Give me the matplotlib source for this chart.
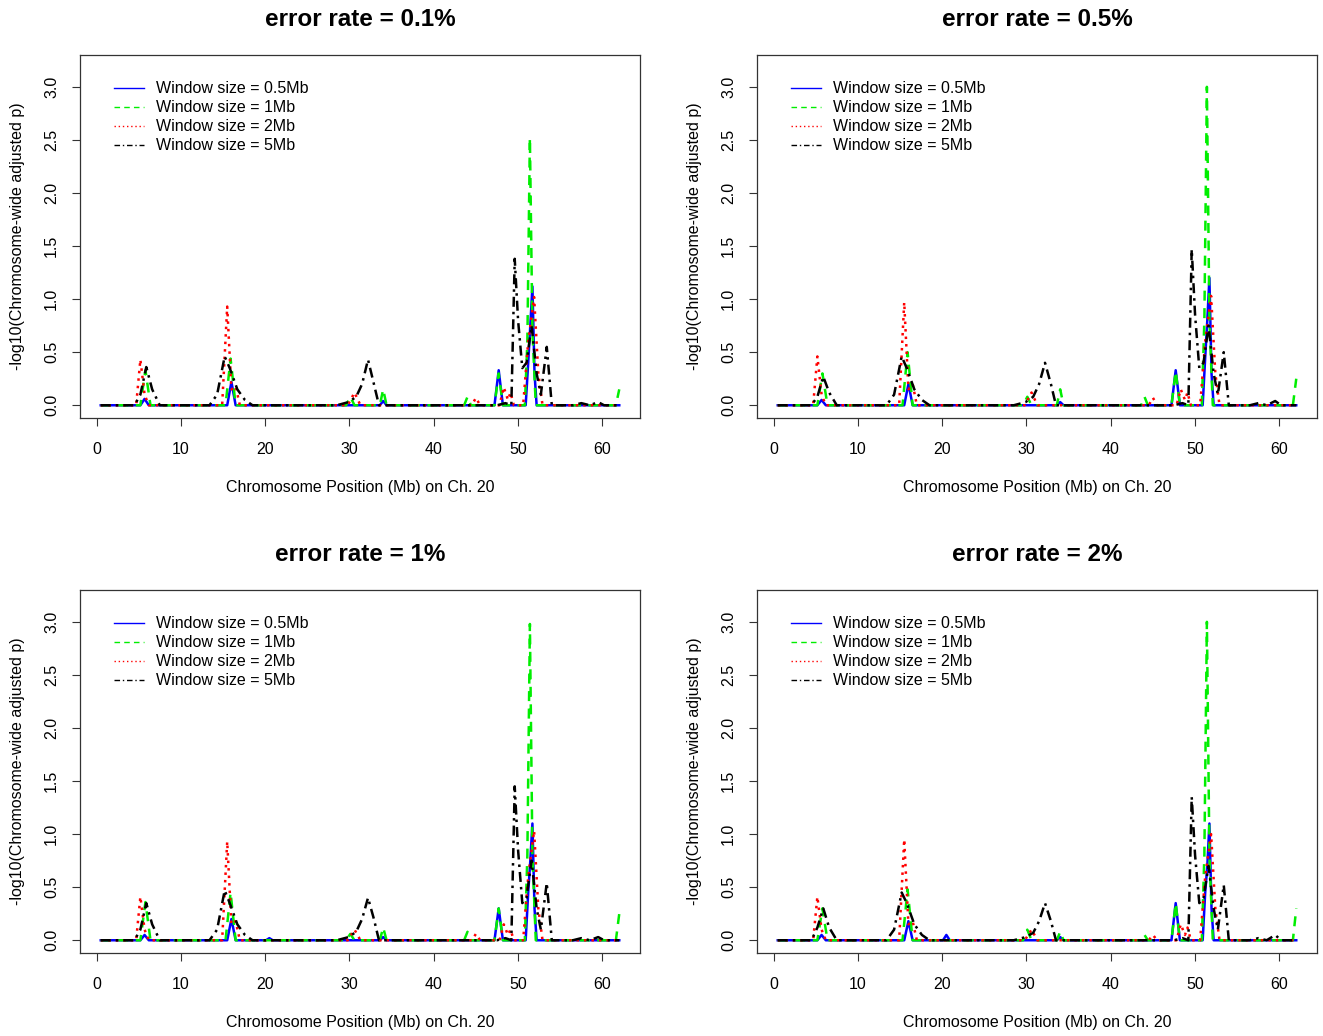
import matplotlib
matplotlib.use("Agg")
import matplotlib.pyplot as plt
from matplotlib.lines import Line2D

plt.rcParams['font.family'] = ['Liberation Sans', 'DejaVu Sans']

# panel titles
titles = ["error rate = 0.1%", "error rate = 0.5%", "error rate = 1%", "error rate = 2%"]
labels = ["Window size = 0.5Mb", "Window size = 1Mb", "Window size = 2Mb", "Window size = 5Mb"]

# window 0.5Mb (blue)
x_blue = [0.5, 5.2, 5.7, 6.2, 15.5, 16.0, 16.5, 20.1, 20.5, 20.9, 33.6, 34.0, 34.4,
          47.2, 47.7, 48.2, 50.9, 51.2, 51.45, 51.7, 51.95, 52.2, 62.0]
y_blue_01 = [0, 0, 0.06, 0, 0, 0.22, 0, 0, 0, 0, 0, 0.04, 0, 0, 0.33, 0, 0, 0.4, 0.75, 1.12, 0.3, 0, 0]
y_blue_05 = [0, 0, 0.05, 0, 0, 0.2, 0, 0, 0, 0, 0, 0.03, 0, 0, 0.33, 0, 0, 0.45, 0.8, 1.2, 0.3, 0, 0]
y_blue_1 = [0, 0, 0.05, 0, 0, 0.2, 0, 0, 0.02, 0, 0, 0.03, 0, 0, 0.3, 0, 0, 0.45, 0.75, 1.1, 0.3, 0, 0]
y_blue_2 = [0, 0, 0.05, 0, 0, 0.18, 0, 0, 0.05, 0, 0, 0.03, 0, 0, 0.35, 0, 0, 0.45, 0.7, 1.1, 0.3, 0, 0]

# window 1Mb (green)
x_green = [0.5, 5.2, 5.8, 6.4, 15.3, 15.9, 16.5, 29.6, 30.1, 30.6, 33.6, 34.0, 34.4,
           43.6, 44.0, 44.4, 47.2, 47.7, 48.2, 50.8, 51.1, 51.4, 51.7, 52.1, 61.6, 62.0]
y_green_01 = [0, 0, 0.33, 0, 0, 0.44, 0, 0, 0.08, 0, 0, 0.15, 0, 0, 0.08, 0, 0, 0.3, 0, 0, 0.6, 2.52, 0.7, 0, 0, 0.15]
y_green_05 = [0, 0, 0.3, 0, 0, 0.5, 0, 0, 0.08, 0, 0, 0.15, 0, 0, 0.08, 0, 0, 0.32, 0, 0, 0.8, 3.0, 0.8, 0, 0, 0.25]
y_green_1 = [0, 0, 0.36, 0, 0, 0.45, 0, 0, 0.06, 0, 0, 0.12, 0, 0, 0.08, 0, 0, 0.3, 0, 0, 0.8, 2.98, 0.8, 0, 0, 0.25]
y_green_2 = [0, 0, 0.3, 0, 0, 0.48, 0, 0, 0.1, 0, 0, 0.08, 0, 0, 0.05, 0, 0, 0.35, 0, 0, 0.8, 3.0, 0.8, 0, 0, 0.3]

# window 2Mb (red)
x_red = [0.5, 4.7, 5.2, 5.7, 6.2, 14.9, 15.5, 16.0, 16.5, 17.0, 29.8, 30.6, 31.3,
         44.5, 45.0, 45.5, 47.8, 48.3, 48.8, 49.1, 49.5, 50.6, 51.2, 51.9, 52.4, 52.9, 62.0]
y_red_01 = [0, 0, 0.43, 0.1, 0, 0, 0.93, 0.15, 0.18, 0, 0, 0.12, 0, 0, 0.07, 0, 0, 0.17, 0.05, 0.12, 0, 0, 0.6, 1.02, 0.3, 0, 0]
y_red_05 = [0, 0, 0.46, 0.1, 0, 0, 0.97, 0.15, 0.2, 0, 0, 0.12, 0, 0, 0.07, 0, 0, 0.15, 0.05, 0.12, 0, 0, 0.6, 1.03, 0.3, 0, 0]
y_red_1 = [0, 0, 0.41, 0.1, 0, 0, 0.93, 0.15, 0.18, 0, 0, 0.1, 0, 0, 0.06, 0, 0, 0.15, 0.05, 0.1, 0, 0, 0.6, 1.03, 0.3, 0, 0]
y_red_2 = [0, 0, 0.41, 0.1, 0, 0, 0.95, 0.15, 0.18, 0, 0, 0.1, 0, 0, 0.05, 0, 0, 0.15, 0.05, 0.12, 0, 0, 0.6, 1.0, 0.3, 0, 0]

# window 5Mb (black)
x_black = [0.5, 4.5, 5.2, 5.9, 6.6, 7.5, 13.4, 14.3, 15.2, 15.8, 16.7, 17.6, 18.5,
           28.5, 29.9, 30.8, 31.5, 32.2, 32.9, 33.5, 47.5, 48.5, 49.2, 49.6, 50.0, 50.5,
           51.0, 51.6, 52.2, 52.7, 53.4, 54.0, 56.5, 57.5, 58.5, 59.5, 60.2, 62.0]
y_black_01 = [0, 0, 0.1, 0.36, 0.15, 0, 0, 0.1, 0.46, 0.35, 0.15, 0.05, 0, 0, 0.03, 0.08, 0.2, 0.43, 0.2, 0,
              0, 0.02, 0, 1.38, 0.8, 0.35, 0.4, 0.75, 0.3, 0.1, 0.55, 0, 0, 0.02, 0, 0.03, 0, 0]
y_black_05 = [0, 0, 0.08, 0.27, 0.12, 0, 0, 0.1, 0.46, 0.35, 0.15, 0.05, 0, 0, 0.03, 0.08, 0.2, 0.4, 0.2, 0,
              0, 0.02, 0, 1.47, 0.85, 0.35, 0.4, 0.75, 0.3, 0.1, 0.5, 0, 0, 0.02, 0, 0.04, 0, 0]
y_black_1 = [0, 0, 0.1, 0.35, 0.15, 0, 0, 0.1, 0.47, 0.35, 0.15, 0.05, 0, 0, 0.03, 0.08, 0.2, 0.4, 0.2, 0,
             0, 0.02, 0, 1.45, 0.85, 0.35, 0.4, 0.75, 0.3, 0.1, 0.54, 0, 0, 0.02, 0, 0.03, 0, 0]
y_black_2 = [0, 0, 0.12, 0.3, 0.12, 0, 0, 0.1, 0.45, 0.35, 0.15, 0.05, 0, 0, 0.03, 0.07, 0.18, 0.35, 0.18, 0,
             0, 0.02, 0, 1.35, 0.8, 0.35, 0.4, 0.7, 0.3, 0.1, 0.52, 0, 0, 0.02, 0, 0.05, 0, 0]

blues = [y_blue_01, y_blue_05, y_blue_1, y_blue_2]
greens = [y_green_01, y_green_05, y_green_1, y_green_2]
reds = [y_red_01, y_red_05, y_red_1, y_red_2]
blacks = [y_black_01, y_black_05, y_black_1, y_black_2]

colors = ["blue", "#00ee00", "red", "black"]
dashes = [None, (4, 3), (1, 2), (4, 2, 1, 2)]
lw = 1.8
fs = 11.5

fig = plt.figure(figsize=(13.23, 10.36), dpi=100)
W, H = 1323, 1036
boxes = [(80, 55), (757, 55), (80, 590), (757, 590)]
bw, bh = 560, 363

for i in range(4):
    l, t = boxes[i]
    ax = fig.add_axes([l / W, 1 - (t + bh) / H, bw / W, bh / H])
    series = [(x_blue, blues[i]), (x_green, greens[i]), (x_red, reds[i]), (x_black, blacks[i])]
    for k, (xs, ys) in enumerate(series):
        line, = ax.plot(xs, ys, color=colors[k], lw=lw)
        if dashes[k] is not None:
            line.set_dashes(dashes[k])
    ax.set_xlim(-1.96, 64.46)
    ax.set_ylim(-0.12, 3.3)
    ax.set_xticks([0, 10, 20, 30, 40, 50, 60])
    ax.set_yticks([0, 0.5, 1.0, 1.5, 2.0, 2.5, 3.0])
    ax.set_yticklabels(["0.0", "0.5", "1.0", "1.5", "2.0", "2.5", "3.0"], rotation=90, va="center")
    ax.tick_params(labelsize=fs, length=6, width=0.8, color="#333333")
    ax.tick_params(axis="x", pad=11)
    ax.tick_params(axis="y", pad=9)
    for s in ax.spines.values():
        s.set_linewidth(0.9)
        s.set_color("#333333")
    ax.set_title(titles[i], fontsize=17.5, fontweight="bold", pad=21)
    ax.set_xlabel("Chromosome Position (Mb) on Ch. 20", fontsize=fs, labelpad=17)
    ax.set_ylabel("-log10(Chromosome-wide adjusted p)", fontsize=fs, labelpad=14)

    handles = []
    for k in range(4):
        h = Line2D([0], [0], color=colors[k], lw=1)
        if dashes[k] is not None:
            h.set_dashes(dashes[k])
        handles.append(h)
    ax.legend(handles, labels, loc="upper left", bbox_to_anchor=(0.049, 0.945), frameon=False,
              fontsize=fs, handlelength=1.9, handletextpad=0.75, labelspacing=0.25,
              borderaxespad=0)

fig.savefig("out.png", dpi=100)
